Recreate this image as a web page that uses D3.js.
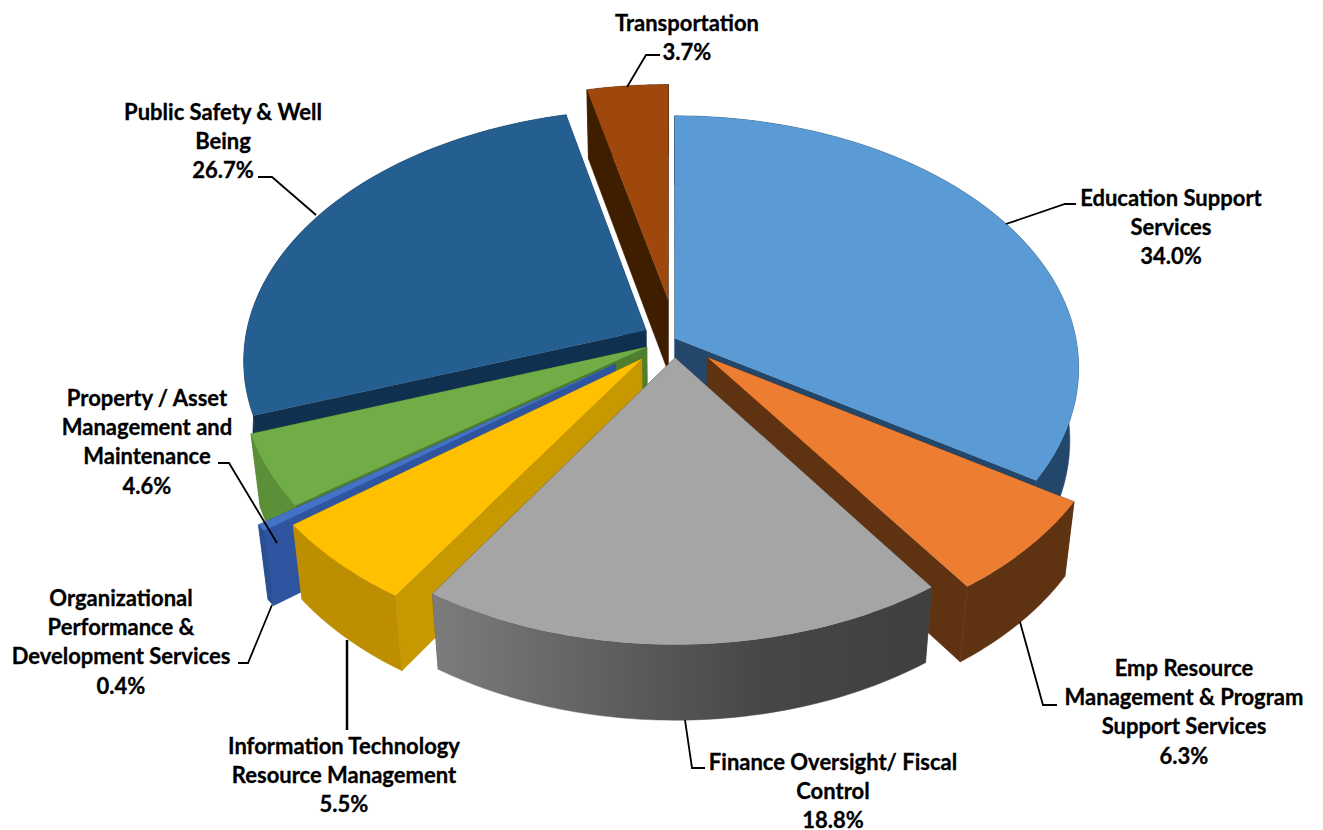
<!DOCTYPE html>
<html><head><meta charset="utf-8">
<script src="https://d3js.org/d3.v7.min.js"></script>
<style>html,body{margin:0;padding:0;background:#fff}svg{display:block}
text{font-family:Lato,"Open Sans",sans-serif;font-weight:700;font-size:22px;fill:#000;stroke:#000;stroke-width:0.3;text-anchor:middle;dominant-baseline:central}</style>
</head><body><svg id="c" width="1323" height="830"></svg>
<script>
// ---- data ----
const categories = ["Education Support Services","Emp Resource Management & Program Support Services","Finance Oversight/ Fiscal Control","Information Technology Resource Management","Organizational Performance & Development Services","Property / Asset Management and Maintenance","Public Safety & Well Being","Transportation"];
const shares = [34.0,6.3,18.8,5.5,0.4,4.6,26.7,3.7];
const shareLabels = ["34.0%","6.3%","18.8%","5.5%","0.4%","4.6%","26.7%","3.7%"];
const explodeX = [3,35,3,-30,-56,-25,-26,-4];
const explodeZ = [1,-29,-30,-32,-40,-13,14,65];
const topColors = ["#5b9bd5","#ed7d31","#a5a5a5","#ffc000","#4472c4","#70ad47","#255e91","#9e480e"];
const wallColors = ["#22476b","#5f3312","url(#grayWall)","#bd8e00","#2a4f92","#5b8f38","#10304f","#3f1e00"];
const radialColors = ["#22476b","#5f3312","#505050","#c79800","#2f55a0","#4e7e2e","#10304f","#3f1e00"];
const drawOrder = [7,6,0,5,4,1,3,2];
// label layout: wrapped lines, centre x, first-line y, leader polyline
const labelLines = [
 ["Education Support","Services"],["Emp Resource","Management & Program","Support Services"],["Finance Oversight/ Fiscal","Control"],
 ["Information Technology","Resource Management"],["Organizational","Performance &","Development Services"],["Property / Asset","Management and","Maintenance"],
 ["Public Safety & Well","Being"],["Transportation"]];
const labelX = [1171,1184,833,344,121,147,223,687];
const labelY = [197,667,761,745,597,397,111,22];
const leaders = [
 [[1006,224],[1065,204],[1076,204]],[[1020,622],[1043,705],[1057,705]],[[685,720],[692,768],[705,768]],
 [[347,640],[347,730]],[[272,605],[248,663],[238,663]],[[277,543],[229,463],[218,463]],
 [[316,215],[272,177],[258,177]],[[627,87],[646,55],[660,55]]];

// ---- projection: a tilted disc seen in perspective ----
const W = {cx:672, cy:339, R:401, sinT:0.62, f:2700, H:95};
W.cosT = Math.sqrt(1-W.sinT*W.sinT);
function project(x, z, h){ // x right, z to the back, h downward depth of the extrusion
  const depth = z*W.cosT + h*W.sinT;
  const s = W.f/(W.f+depth);
  return [W.cx + x*s, W.cy + (-z*W.sinT + h*W.cosT)*s];
}
const svg = d3.select("#c");
const defs = svg.append("defs");
const g = defs.append("linearGradient").attr("id","grayWall").attr("gradientUnits","userSpaceOnUse")
  .attr("x1",434).attr("x2",933).attr("y1",0).attr("y2",0);
[[0,"#7c7c7c"],[0.35,"#5f5f5f"],[0.65,"#474747"],[1,"#3f3f3f"]].forEach(d=>g.append("stop").attr("offset",d[0]).attr("stop-color",d[1]));

const arcs = d3.pie().sort(null).startAngle(0).endAngle(2*Math.PI)(shares);
const line = d3.line();
const layer = svg.append("g");

function drawSlice(i){
  const a = arcs[i];
  const ex = explodeX[i], ez = explodeZ[i];
  const pt = (r,t,h)=>project(ex+r*Math.sin(t), ez+r*Math.cos(t), h);
  const ts = d3.range(0,61).map(k=>a.startAngle+(a.endAngle-a.startAngle)*k/60);
  const rimTop = ts.map(t=>pt(W.R,t,0));
  const rimBot = ts.map(t=>pt(W.R,t,W.H));
  const c0 = pt(0,0,0), c1 = pt(0,0,W.H);
  const G = layer.append("g").attr("class","slice").attr("data-name",categories[i]);
  [a.startAngle,a.endAngle].forEach(t=>{
    G.append("path").attr("d",line([c0,pt(W.R,t,0),pt(W.R,t,W.H),c1])+"Z").attr("fill",radialColors[i]).attr("stroke",radialColors[i]).attr("stroke-width",0.5);
  });
  G.append("path").attr("d",line(rimTop.concat(rimBot.slice().reverse()))+"Z").attr("fill",wallColors[i]).attr("stroke",wallColors[i]).attr("stroke-width",0.5);
  G.append("path").attr("d",line([c0].concat(rimTop))+"Z").attr("fill",topColors[i]);
}
drawOrder.forEach(drawSlice);

// leaders and labels
const lg = svg.append("g");
leaders.forEach((p,i)=>{
  lg.append("path").attr("d",line(p)).attr("fill","none").attr("stroke","#000").attr("stroke-width",i===3?2.5:1.8);
});
const LH = 29.4;
categories.forEach((c,i)=>{
  const lines = labelLines[i].concat([shareLabels[i]]);
  lines.forEach((t,j)=>{
    lg.append("text").attr("x",labelX[i]).attr("y",labelY[i]+j*LH).text(t);
  });
});
</script></body></html>
